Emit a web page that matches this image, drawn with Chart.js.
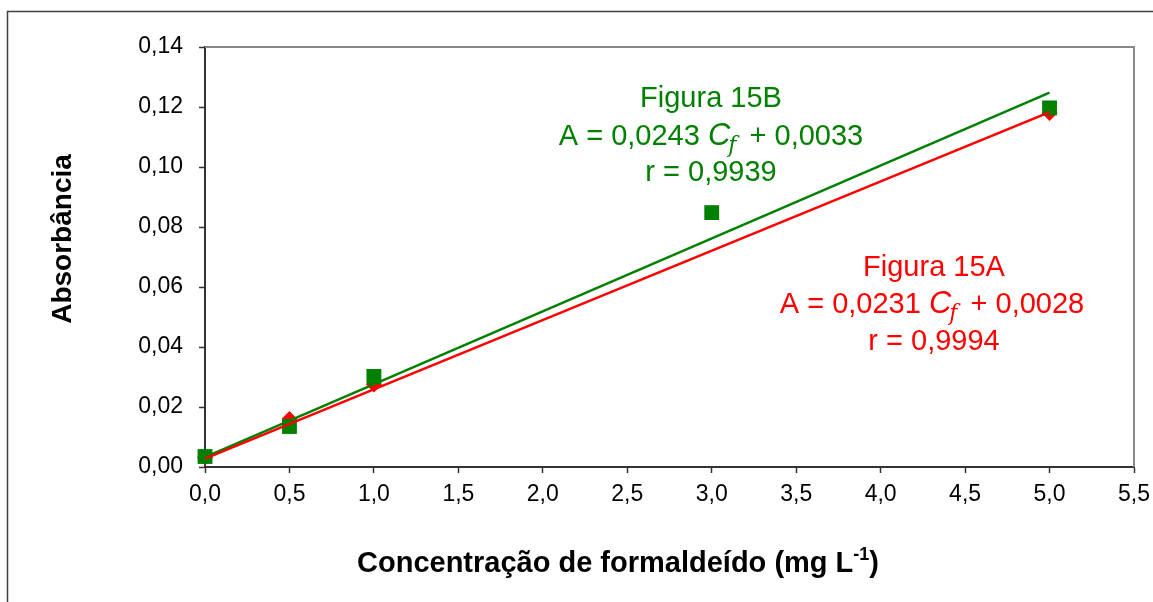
<!DOCTYPE HTML>
<html>
<head>
  <title>Curva analítica - formaldeído</title>
  <meta charset="utf-8" />
  <script src="https://cdn.jsdelivr.net/npm/chart.js@4/dist/chart.umd.min.js"></script>
  <style type="text/css">
    body { margin: 0; padding: 0; background: #fff; }
    #wrap { width: 1153px; height: 602px; }
  </style>
</head>
<body>
<div id="wrap">
  <canvas id="curva" width="1153" height="602"></canvas>
</div>

<script>
  // dados (concentração em mg/L, absorbância)
  var concA = [0.0, 0.5, 1.0, 5.0];
  var absA  = [0.0032, 0.0160, 0.0275, 0.1180];
  var concB = [0.0, 0.5, 1.0, 3.0, 5.0];
  var absB  = [0.0035, 0.0135, 0.0302, 0.0848, 0.1197];
  // retas de ajuste (extremos)
  var retaAx = [0.0, 5.0];
  var retaAy = [0.0028, 0.1183];
  var retaBx = [0.0, 5.0];
  var retaBy = [0.0033, 0.1248];
  var xTicks = [0, 0.5, 1, 1.5, 2, 2.5, 3, 3.5, 4, 4.5, 5, 5.5];
  var yTicks = [0, 0.02, 0.04, 0.06, 0.08, 0.10, 0.12, 0.14];
  var verde = "#008000", vermelho = "#ff0000";

  function pares(xs, ys) {
    var out = [];
    for (var i = 0; i < xs.length; i++) out.push({x: xs[i], y: ys[i]});
    return out;
  }
  function virgula(v, casas) { return v.toFixed(casas).replace(".", ","); }

  var sans = "'Liberation Sans', Arial, sans-serif";

  // escreve "A = 0,0231 Cf + 0,0028" centrado, com C itálico e f subscrito
  function equacao(ctx, cx, cy, antes, depois, cor) {
    var fN = "29px " + sans;
    var fC = "italic 31px " + sans;
    var fS = "italic 22px 'DejaVu Serif', serif";
    ctx.font = fN; var w1 = ctx.measureText(antes).width;
    ctx.font = fC; var w2 = ctx.measureText("C").width;
    ctx.font = fS; var w3 = ctx.measureText("f").width + 3;
    ctx.font = fN; var w4 = ctx.measureText(depois).width;
    var x = cx - (w1 + w2 + w3 + w4) / 2;
    ctx.fillStyle = cor; ctx.textAlign = "left"; ctx.textBaseline = "middle";
    ctx.font = fN; ctx.fillText(antes, x, cy); x += w1;
    ctx.font = fC; ctx.fillText("C", x, cy - 1); x += w2 - 2;
    ctx.font = fS; ctx.fillText("f", x, cy + 9); x += w3 + 2;
    ctx.font = fN; ctx.fillText(depois, x, cy);
  }

  var extras = {
    id: 'extras',
    beforeDraw: function(chart) {
      var ctx = chart.ctx;
      ctx.save();
      ctx.fillStyle = "#fff";
      ctx.fillRect(0, 0, chart.width, chart.height);
      ctx.strokeStyle = "#404040"; ctx.lineWidth = 1.5;
      ctx.strokeRect(7.5, 11.5, 1200, 700);
      ctx.restore();
    },
    afterDatasetsDraw: function(chart) {
      var ctx = chart.ctx, a = chart.chartArea;
      ctx.save();
      // borda superior e direita da área do gráfico
      ctx.strokeStyle = "#888"; ctx.lineWidth = 2;
      ctx.beginPath();
      ctx.moveTo(a.left, a.top); ctx.lineTo(a.right, a.top); ctx.lineTo(a.right, a.bottom);
      ctx.stroke();

      ctx.textAlign = "center"; ctx.textBaseline = "middle";
      ctx.font = "29px " + sans;
      ctx.fillStyle = verde;
      ctx.fillText("Figura 15B", 711, 99);
      equacao(ctx, 711, 137, "A = 0,0243 ", " + 0,0033", verde);
      ctx.textAlign = "center"; ctx.font = "29px " + sans;
      ctx.fillText("r = 0,9939", 711, 173);
      ctx.fillStyle = vermelho;
      ctx.fillText("Figura 15A", 934, 268);
      equacao(ctx, 932, 305, "A = 0,0231 ", " + 0,0028", vermelho);
      ctx.textAlign = "center"; ctx.font = "29px " + sans;
      ctx.fillText("r = 0,9994", 934, 342);

      // título do eixo x com expoente
      ctx.fillStyle = "#000";
      var fT = "bold 29px " + sans, fE = "bold 18px " + sans;
      var t1 = "Concentração de formaldeído (mg L", t2 = "-1", t3 = ")";
      ctx.font = fT; var w1 = ctx.measureText(t1).width, w3 = ctx.measureText(t3).width;
      ctx.font = fE; var w2 = ctx.measureText(t2).width;
      var x = 618 - (w1 + w2 + w3) / 2;
      ctx.textAlign = "left";
      ctx.font = fT; ctx.fillText(t1, x, 564); x += w1;
      ctx.font = fE; ctx.fillText(t2, x, 555); x += w2;
      ctx.font = fT; ctx.fillText(t3, x, 564);

      ctx.textAlign = "center";
      ctx.font = "bold 28px " + sans;
      ctx.translate(63, 239);
      ctx.rotate(-Math.PI / 2);
      ctx.fillText("Absorbância", 0, 0);
      ctx.restore();
    }
  };

  var tickFont = { family: sans, size: 23 };

  new Chart(document.getElementById("curva"), {
    type: 'scatter',
    data: {
      datasets: [
        { type: 'line', label: 'Ajuste 15A', data: pares(retaAx, retaAy), borderColor: vermelho,
          borderWidth: 2.5, pointRadius: 0, fill: false, order: 0, clip: false },
        { type: 'line', label: 'Ajuste 15B', data: pares(retaBx, retaBy), borderColor: verde,
          borderWidth: 2.5, pointRadius: 0, fill: false, order: 1, clip: false },
        { label: 'Figura 15B', data: pares(concB, absB), pointStyle: 'rect', pointRadius: 10.5,
          backgroundColor: verde, borderColor: verde, borderWidth: 0, order: 2, clip: false },
        { label: 'Figura 15A', data: pares(concA, absA), pointStyle: 'rectRot', pointRadius: 8,
          backgroundColor: vermelho, borderColor: vermelho, borderWidth: 0, order: 3, clip: false }
      ]
    },
    options: {
      responsive: false,
      animation: false,
      layout: { padding: { top: 47, right: 19, left: 0, bottom: 0 } },
      plugins: { legend: { display: false }, tooltip: { enabled: false } },
      scales: {
        x: {
          type: 'linear', min: 0, max: 5.5,
          afterBuildTicks: function(s) { s.ticks = xTicks.map(function(v) { return {value: v}; }); },
          afterFit: function(s) { s.height = 135; s.paddingRight = 0; s.paddingLeft = 0; },
          grid: { drawOnChartArea: false, drawTicks: true, tickLength: 6, color: "#333", tickWidth: 1.5 },
          border: { color: "#333", width: 2 },
          ticks: { color: "#000", font: tickFont, padding: 8, maxRotation: 0,
                   callback: function(v) { return virgula(v, 1); } }
        },
        y: {
          type: 'linear', min: 0, max: 0.14,
          afterBuildTicks: function(s) { s.ticks = yTicks.map(function(v) { return {value: v}; }); },
          afterFit: function(s) { s.width = 205; },
          grid: { drawOnChartArea: false, drawTicks: true, tickLength: 6, color: "#333", tickWidth: 1.5 },
          border: { color: "#333", width: 2 },
          ticks: { color: "#000", font: tickFont, padding: 16,
                   callback: function(v) { return virgula(v, 2); } }
        }
      }
    },
    plugins: [extras]
  });
</script>
</body>
</html>
